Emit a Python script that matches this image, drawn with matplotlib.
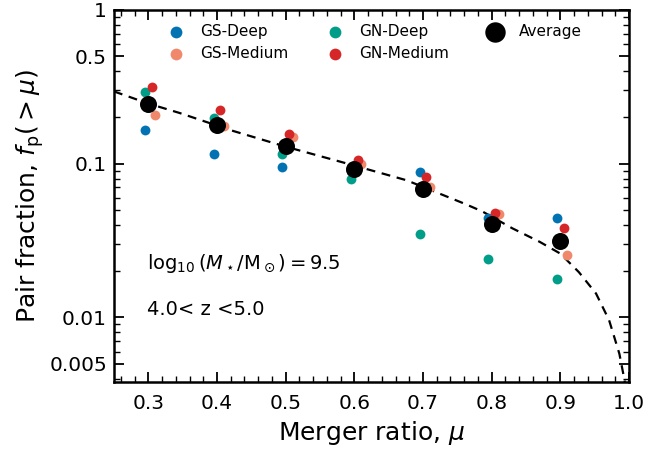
import matplotlib
matplotlib.use('Agg')
import matplotlib.pyplot as plt
from matplotlib.ticker import MultipleLocator, LogLocator, NullFormatter

## merger ratio bins and pair fractions per field
mu = [0.3, 0.4, 0.5, 0.6, 0.7, 0.8, 0.9]
gs_deep = [0.165, 0.115, 0.0945, 0.089, 0.0877, 0.0443, 0.044]
gs_medium = [0.207, 0.175, 0.149, 0.100, 0.070, 0.0474, 0.0256]
gn_deep = [0.291, 0.197, 0.116, 0.0789, 0.0351, 0.0239, 0.0177]
gn_medium = [0.313, 0.223, 0.155, 0.106, 0.082, 0.0481, 0.0382]
average = [0.243, 0.178, 0.130, 0.093, 0.068, 0.0408, 0.0313]

## dashed model curve
fit_mu = [0.25, 0.30, 0.345, 0.40, 0.42, 0.50, 0.59, 0.676, 0.76, 0.786,
          0.83, 0.87, 0.90, 0.927, 0.952, 0.971, 0.986, 0.994]
fit_fp = [0.295, 0.246, 0.214, 0.177, 0.165, 0.129, 0.100, 0.078, 0.055, 0.049,
          0.038, 0.031, 0.026, 0.0197, 0.0143, 0.0096, 0.0058, 0.0038]

yticks = [0.005, 0.01, 0.1, 0.5, 1]
ylabels = ['0.005', '0.01', '0.1', '0.5', '1']

fig = plt.figure(figsize=(6.72, 4.51), dpi=100)
ax = fig.add_axes([0.1696, 0.153, 0.7664, 0.825])

off = 0.005
ax.scatter([m - off for m in mu], gs_deep, s=50, color='#0173b2', lw=0, label='GS-Deep', zorder=3)
ax.scatter([m + 2*off for m in mu], gs_medium, s=50, color='#f0896c', lw=0, label='GS-Medium', zorder=3)
ax.scatter([m - off for m in mu], gn_deep, s=50, color='#009e88', lw=0, label='GN-Deep', zorder=3)
ax.scatter([m + off for m in mu], gn_medium, s=50, color='#d62728', lw=0, label='GN-Medium', zorder=3)
ax.scatter(mu, average, s=150, color='black', lw=0, label='Average', zorder=4)
ax.plot(fit_mu, fit_fp, 'k--', lw=1.6, dashes=(4, 3), zorder=2)

ax.set_yscale('log')
ax.set_xlim(0.25, 1.0)
ax.set_ylim(0.0038, 1)
ax.set_yticks(yticks)
ax.set_yticklabels(ylabels)
ax.yaxis.set_minor_locator(LogLocator(base=10, subs=range(2, 10)))
ax.yaxis.set_minor_formatter(NullFormatter())
ax.xaxis.set_major_locator(MultipleLocator(0.1))
ax.xaxis.set_minor_locator(MultipleLocator(0.02))

ax.tick_params(which='both', direction='in', top=True, right=True, labelsize=14.5)
ax.tick_params(which='major', length=7, width=1.3)
ax.tick_params(axis='y', which='major', pad=5)
ax.tick_params(axis='x', which='major', pad=9)
ax.tick_params(which='minor', length=4, width=1.0)
for s in ax.spines.values():
    s.set_linewidth(1.8)

ax.set_xlabel(r'Merger ratio, $\mu$', fontsize=18, labelpad=4)
ax.set_ylabel(r'Pair fraction, $f_{\rm p}(>\mu)$', fontsize=18, labelpad=2)

ax.text(0.064, 0.318, r'$\log_{10}(M_\star/\mathrm{M}_\odot) = 9.5$', transform=ax.transAxes,
        fontsize=14, va='center')
ax.text(0.064, 0.194, r'4.0< z <5.0', transform=ax.transAxes, fontsize=14, va='center')

ax.legend(ncol=3, loc='upper center', bbox_to_anchor=(0.5, 1.0), frameon=False,
          fontsize=11, handletextpad=0.6, columnspacing=2.0, labelspacing=0.45,
          borderaxespad=0.55, markerscale=1.2)

plt.savefig('out.png', dpi=100)
